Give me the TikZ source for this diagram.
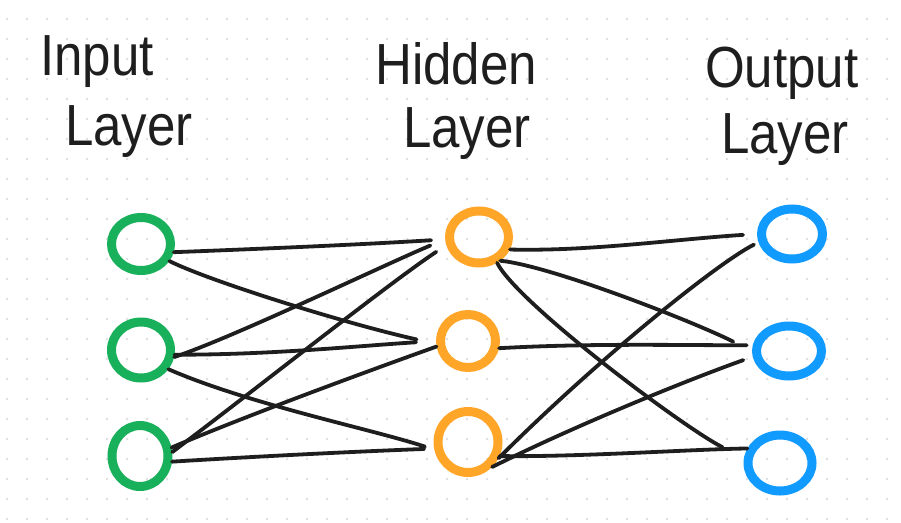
\documentclass[tikz,border=0pt]{standalone}
\usepackage{fontspec}
\newfontfamily\hand[FakeStretch=0.88]{Liberation Sans}
\usetikzlibrary{shapes.geometric}
\definecolor{ink}{HTML}{1E1E1E}
\definecolor{grn}{HTML}{19B05B}
\definecolor{org}{HTML}{FFA629}
\definecolor{blu}{HTML}{129BFF}
\definecolor{dotc}{HTML}{DEDEDE}
\tikzset{
  neuron/.style={ellipse,draw=#1,line width=9pt,inner sep=0pt,outer sep=auto},
  edge/.style={draw=ink,line width=3.8pt,line cap=round,line join=round},
  lbl/.style={anchor=base west,inner sep=0pt,text=ink,font=\hand\fontsize{58}{62}\selectfont}
}
\begin{document}
\begin{tikzpicture}[x=1pt,y=-1pt]
\useasboundingbox (0,0) rectangle (901,522);
\fill[white] (0,0) rectangle (901,522);
\foreach \gx in {7,27,...,900} \foreach \gy in {19,39,...,520} \fill[dotc] (\gx,\gy) circle (1.3pt);

% labels
\node[lbl] (in1) at (40,75) {Input};
\node[lbl] (in2) at (65,145) {Layer};
\node[lbl] (hd1) at (375,84) {Hidden};
\node[lbl] (hd2) at (403,147) {Layer};
\node[lbl] (ou1) at (705,87) {Output};
\node[lbl] (ou2) at (721,153) {Layer};

% neurons
\node[neuron=grn,minimum width=59pt,minimum height=53pt] (i1) at (141,244) {};
\node[neuron=grn,minimum width=59pt,minimum height=56pt] (i2) at (141,350) {};
\node[neuron=grn,minimum width=56pt,minimum height=61pt] (i3) at (140,456) {};
\node[neuron=org,minimum width=59pt,minimum height=52pt] (h1) at (479,237) {};
\node[neuron=org,minimum width=55pt,minimum height=53pt] (h2) at (468,341) {};
\node[neuron=org,minimum width=60pt,minimum height=61pt] (h3) at (468,442) {};
\node[neuron=blu,minimum width=61pt,minimum height=50pt] (o1) at (792,234) {};
\node[neuron=blu,minimum width=65pt,minimum height=50pt] (o2) at (789,351) {};
\node[neuron=blu,minimum width=64pt,minimum height=56pt] (o3) at (780,463) {};

% input -> hidden
\draw[edge,shorten >=14pt] (i1.-14) .. controls +(80,-3) and +(-80,5) .. (h1.184);
\draw[edge,shorten >=20pt] (i1.-31) .. controls +(40,20) and +(-90,-20) .. (h2.185);
\draw[edge,shorten >=16pt] (i2.-12) .. controls +(60,-20) and +(-60,25) .. (h1.184);
\draw[edge,shorten >=20pt] (i2.-8) .. controls +(100,0) and +(-80,5) .. (h2.180);
\draw[edge,shorten >=10pt] (i2.-35) .. controls +(80,35) and +(-60,-20) .. (h3.193);
\draw[edge,shorten >=12pt] (i3.7) .. controls +(80,-60) and +(-60,40) .. (h1.194);
\draw[edge] (i3.15) .. controls +(70,-30) and +(-70,25) .. (h2.190);
\draw[edge,shorten >=10pt] (i3.-10) .. controls +(80,-5) and +(-80,3) .. (h3.191);

% hidden -> output
\draw[edge,shorten >=14pt] (h1.-22) .. controls +(80,2) and +(-80,5) .. (o1.180);
\draw[edge,shorten >=21pt] (h1.-48) .. controls +(50,5) and +(-60,-30) .. (o2.180);
\draw[edge,shorten >=24pt] (h1.-55) .. controls +(20,40) and +(-60,-30) .. (o3.172);
\draw[edge,shorten >=6pt] (h2.-13) .. controls +(90,-5) and +(-80,0) .. (o2.171);
\draw[edge,shorten >=5pt] (h3.-28) .. controls +(100,-100) and +(-40,20) .. (o1.194);
\draw[edge,shorten >=10pt] (h3.-46) .. controls +(80,-40) and +(-70,25) .. (o2.189);
\draw[edge] (h3.-24) .. controls +(80,1) and +(-60,1) .. (o3.156);
\end{tikzpicture}
\end{document}
